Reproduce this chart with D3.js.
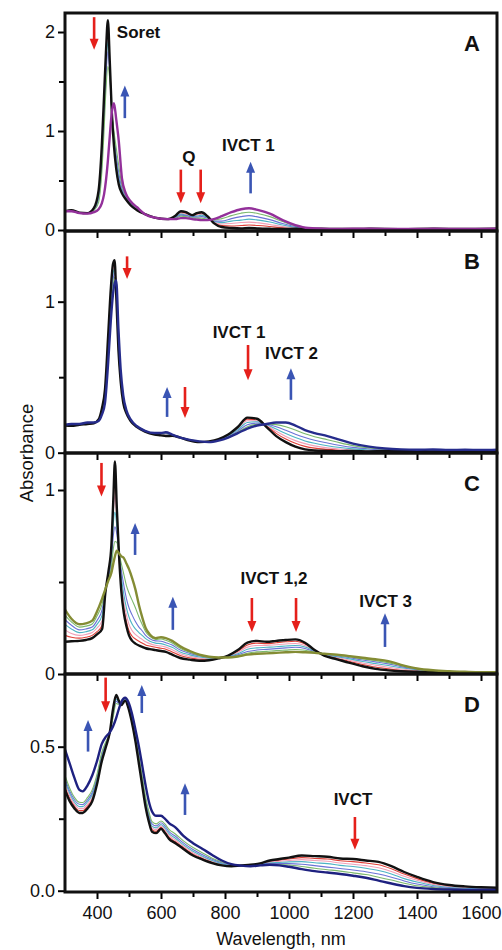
<!DOCTYPE html>
<html>
<head>
<meta charset="utf-8">
<script src="https://cdn.jsdelivr.net/npm/d3@7"></script>
<style>
  body { margin: 0; background: #fff; }
  svg { display: block; font-family: "Liberation Sans", Arial, sans-serif; }
</style>
</head>
<body>
<div id="chart"></div>
<script>
// ---- panel A: Soret / Q / IVCT 1 ----
const wlA = [300, 320, 345, 370, 390, 405, 415, 422, 428, 434, 440, 446, 453, 460, 468, 478, 490, 505, 525, 550, 580, 620, 645, 662, 678, 697, 712, 727, 745, 765, 790, 820, 850, 875, 905, 940, 980, 1020, 1060, 1100, 1150, 1250, 1350, 1450, 1550, 1650];
const blackA = [0.19, 0.2, 0.175, 0.17, 0.22, 0.4, 0.85, 1.35, 1.8, 2.12, 1.7, 1.21, 0.85, 0.62, 0.46, 0.37, 0.31, 0.25, 0.2, 0.16, 0.125, 0.11, 0.145, 0.19, 0.18, 0.15, 0.17, 0.18, 0.14, 0.07, 0.03, 0.02, 0.015, 0.02, 0.015, 0.012, 0.01, 0.012, 0.008, 0.013, 0.01, 0.012, 0.009, 0.013, 0.01, 0.012];
const purpleA = [0.19, 0.19, 0.17, 0.165, 0.18, 0.21, 0.27, 0.36, 0.5, 0.7, 0.95, 1.18, 1.28, 1.12, 0.9, 0.52, 0.37, 0.29, 0.23, 0.16, 0.125, 0.11, 0.11, 0.12, 0.12, 0.11, 0.105, 0.1, 0.1, 0.11, 0.14, 0.18, 0.21, 0.22, 0.2, 0.165, 0.1, 0.05, 0.02, 0.014, 0.011, 0.013, 0.01, 0.012, 0.011, 0.012];
const stepsA = [
  [0.19, 0.2, 0.175, 0.17, 0.215, 0.38, 0.8, 1.3, 1.75, 2.06, 1.68, 1.22, 0.87, 0.64, 0.48, 0.38, 0.31, 0.25, 0.2, 0.16, 0.125, 0.11, 0.14, 0.18, 0.17, 0.145, 0.16, 0.17, 0.135, 0.075, 0.045, 0.04, 0.045, 0.05, 0.045, 0.035, 0.022, 0.014, 0.01, 0.012, 0.01, 0.012, 0.01, 0.012, 0.01, 0.012],
  [0.19, 0.2, 0.174, 0.169, 0.21, 0.36, 0.76, 1.25, 1.68, 1.98, 1.65, 1.22, 0.89, 0.67, 0.5, 0.39, 0.32, 0.26, 0.205, 0.16, 0.125, 0.11, 0.135, 0.17, 0.16, 0.14, 0.15, 0.16, 0.13, 0.08, 0.06, 0.065, 0.075, 0.08, 0.072, 0.056, 0.035, 0.02, 0.012, 0.011, 0.011, 0.012, 0.01, 0.012, 0.011, 0.012],
  [0.19, 0.195, 0.173, 0.168, 0.205, 0.34, 0.72, 1.2, 1.62, 1.9, 1.62, 1.22, 0.92, 0.71, 0.53, 0.4, 0.33, 0.265, 0.21, 0.16, 0.125, 0.11, 0.13, 0.16, 0.15, 0.135, 0.14, 0.15, 0.125, 0.085, 0.075, 0.09, 0.1, 0.11, 0.1, 0.08, 0.05, 0.028, 0.014, 0.012, 0.011, 0.012, 0.01, 0.012, 0.011, 0.012],
  [0.19, 0.195, 0.172, 0.167, 0.2, 0.31, 0.66, 1.12, 1.54, 1.8, 1.58, 1.22, 0.95, 0.76, 0.58, 0.42, 0.34, 0.27, 0.215, 0.16, 0.125, 0.11, 0.125, 0.15, 0.145, 0.13, 0.13, 0.135, 0.118, 0.09, 0.09, 0.115, 0.135, 0.145, 0.13, 0.105, 0.065, 0.035, 0.016, 0.012, 0.011, 0.012, 0.01, 0.012, 0.011, 0.012],
  [0.19, 0.19, 0.171, 0.166, 0.195, 0.28, 0.58, 1.0, 1.42, 1.65, 1.52, 1.22, 1.0, 0.83, 0.65, 0.45, 0.35, 0.28, 0.22, 0.16, 0.125, 0.11, 0.118, 0.14, 0.135, 0.12, 0.12, 0.12, 0.11, 0.1, 0.115, 0.145, 0.17, 0.18, 0.165, 0.135, 0.085, 0.042, 0.018, 0.013, 0.011, 0.012, 0.01, 0.012, 0.011, 0.012]
];
const arrowsA = [[391, 2.15, 1.82], [487, 1.13, 1.46], [662, 0.61, 0.27], [724, 0.61, 0.27], [880, 0.37, 0.69]];
const labelsA = [["Soret", 462, 2.0, "start"], ["Q", 687, 0.737, "middle"], ["IVCT 1", 873, 0.86, "middle"]];

// ---- panel B ----
const wlB = [300, 320, 345, 370, 390, 405, 415, 425, 435, 443, 450, 455, 460, 467, 474, 482, 492, 505, 525, 550, 580, 600, 615, 635, 660, 690, 720, 750, 780, 810, 840, 870, 900, 930, 960, 990, 1020, 1050, 1080, 1120, 1160, 1200, 1250, 1300, 1350, 1400, 1450, 1500, 1550, 1600, 1650];
const blackB = [0.18, 0.178, 0.185, 0.19, 0.195, 0.22, 0.29, 0.42, 0.78, 1.08, 1.25, 1.275, 1.05, 0.68, 0.47, 0.33, 0.26, 0.21, 0.17, 0.14, 0.12, 0.115, 0.11, 0.112, 0.1, 0.08, 0.07, 0.075, 0.09, 0.12, 0.17, 0.232, 0.225, 0.17, 0.11, 0.07, 0.04, 0.022, 0.015, 0.012, 0.01, 0.012, 0.009, 0.011, 0.01, 0.012, 0.009, 0.011, 0.01, 0.012, 0.01];
const navyB = [0.185, 0.19, 0.19, 0.2, 0.2, 0.21, 0.25, 0.33, 0.6, 0.87, 1.05, 1.12, 1.14, 0.82, 0.55, 0.38, 0.28, 0.22, 0.175, 0.145, 0.13, 0.13, 0.135, 0.12, 0.1, 0.085, 0.075, 0.07, 0.08, 0.1, 0.13, 0.16, 0.18, 0.19, 0.2, 0.2, 0.18, 0.15, 0.13, 0.11, 0.085, 0.06, 0.04, 0.028, 0.022, 0.02, 0.021, 0.018, 0.02, 0.018, 0.02];
const stepsB = [
  [0.18, 0.179, 0.186, 0.19, 0.196, 0.218, 0.285, 0.41, 0.76, 1.06, 1.235, 1.262, 1.06, 0.7, 0.48, 0.34, 0.265, 0.212, 0.171, 0.141, 0.122, 0.118, 0.115, 0.114, 0.101, 0.081, 0.071, 0.074, 0.088, 0.118, 0.166, 0.222, 0.218, 0.178, 0.128, 0.09, 0.062, 0.042, 0.03, 0.022, 0.016, 0.014, 0.012, 0.011, 0.01, 0.012, 0.01, 0.011, 0.01, 0.011, 0.01],
  [0.181, 0.181, 0.187, 0.192, 0.197, 0.216, 0.28, 0.4, 0.74, 1.03, 1.21, 1.245, 1.07, 0.72, 0.49, 0.35, 0.268, 0.214, 0.172, 0.142, 0.124, 0.121, 0.12, 0.115, 0.1, 0.082, 0.072, 0.073, 0.086, 0.114, 0.16, 0.212, 0.212, 0.182, 0.142, 0.108, 0.08, 0.06, 0.045, 0.032, 0.024, 0.018, 0.014, 0.012, 0.011, 0.012, 0.011, 0.012, 0.011, 0.012, 0.011],
  [0.182, 0.183, 0.188, 0.194, 0.198, 0.214, 0.272, 0.38, 0.71, 1.0, 1.18, 1.22, 1.08, 0.74, 0.5, 0.355, 0.27, 0.216, 0.173, 0.143, 0.126, 0.124, 0.125, 0.116, 0.1, 0.083, 0.073, 0.072, 0.084, 0.11, 0.152, 0.2, 0.205, 0.186, 0.157, 0.127, 0.1, 0.078, 0.062, 0.046, 0.034, 0.025, 0.018, 0.014, 0.013, 0.014, 0.013, 0.014, 0.013, 0.014, 0.013],
  [0.183, 0.185, 0.189, 0.196, 0.199, 0.212, 0.265, 0.36, 0.67, 0.96, 1.14, 1.19, 1.1, 0.77, 0.52, 0.365, 0.275, 0.218, 0.174, 0.144, 0.128, 0.127, 0.13, 0.118, 0.1, 0.084, 0.074, 0.071, 0.082, 0.106, 0.143, 0.185, 0.196, 0.188, 0.172, 0.148, 0.122, 0.1, 0.082, 0.064, 0.048, 0.035, 0.025, 0.018, 0.016, 0.016, 0.016, 0.015, 0.016, 0.015, 0.016],
  [0.184, 0.188, 0.19, 0.198, 0.2, 0.211, 0.258, 0.345, 0.64, 0.92, 1.1, 1.16, 1.12, 0.8, 0.54, 0.372, 0.278, 0.22, 0.175, 0.145, 0.129, 0.129, 0.133, 0.119, 0.1, 0.085, 0.075, 0.07, 0.081, 0.103, 0.136, 0.172, 0.188, 0.19, 0.186, 0.172, 0.15, 0.126, 0.106, 0.086, 0.065, 0.047, 0.032, 0.023, 0.019, 0.018, 0.018, 0.017, 0.018, 0.017, 0.018]
];
const arrowsB = [[494, 1.30, 1.15], [619, 0.237, 0.435], [675, 0.435, 0.23], [872, 0.713, 0.48], [1006, 0.35, 0.56]];
const labelsB = [["IVCT 1", 844, 0.8, "middle"], ["IVCT 2", 1008, 0.66, "middle"]];

// ---- panel C ----
const wlC = [300, 320, 345, 365, 385, 400, 416, 426, 436, 445, 451, 456, 462, 469, 476, 484, 492, 500, 510, 520, 531, 541, 552, 565, 583, 600, 615, 635, 660, 690, 720, 750, 780, 810, 840, 870, 900, 930, 960, 990, 1020, 1050, 1080, 1110, 1150, 1190, 1230, 1270, 1310, 1350, 1400, 1450, 1500, 1550, 1600, 1650];
const blackC = [0.175, 0.178, 0.18, 0.185, 0.195, 0.215, 0.245, 0.44, 0.56, 0.7, 0.95, 1.155, 0.9, 0.64, 0.45, 0.33, 0.26, 0.21, 0.18, 0.165, 0.155, 0.148, 0.14, 0.135, 0.13, 0.125, 0.12, 0.105, 0.087, 0.078, 0.072, 0.075, 0.085, 0.1, 0.13, 0.17, 0.18, 0.175, 0.18, 0.185, 0.188, 0.17, 0.13, 0.1, 0.08, 0.06, 0.042, 0.028, 0.02, 0.015, 0.012, 0.01, 0.011, 0.009, 0.01, 0.009];
const oliveC = [0.35, 0.3, 0.27, 0.275, 0.29, 0.34, 0.41, 0.46, 0.51, 0.55, 0.6, 0.64, 0.67, 0.655, 0.64, 0.63, 0.6, 0.57, 0.52, 0.46, 0.375, 0.31, 0.25, 0.215, 0.195, 0.2, 0.195, 0.18, 0.15, 0.125, 0.105, 0.094, 0.09, 0.09, 0.095, 0.105, 0.11, 0.112, 0.115, 0.118, 0.12, 0.118, 0.115, 0.11, 0.105, 0.097, 0.088, 0.08, 0.07, 0.05, 0.03, 0.02, 0.015, 0.012, 0.01, 0.01];
const stepsC = [
  [0.21, 0.2, 0.195, 0.2, 0.21, 0.23, 0.265, 0.443, 0.555, 0.69, 0.93, 1.06, 0.87, 0.635, 0.47, 0.355, 0.285, 0.235, 0.205, 0.19, 0.178, 0.168, 0.158, 0.152, 0.145, 0.14, 0.135, 0.12, 0.1, 0.088, 0.08, 0.079, 0.087, 0.099, 0.124, 0.158, 0.168, 0.165, 0.17, 0.175, 0.178, 0.163, 0.13, 0.104, 0.086, 0.068, 0.052, 0.038, 0.028, 0.02, 0.015, 0.012, 0.011, 0.01, 0.01, 0.009],
  [0.24, 0.22, 0.21, 0.215, 0.225, 0.25, 0.29, 0.447, 0.545, 0.67, 0.88, 0.97, 0.84, 0.645, 0.5, 0.39, 0.32, 0.27, 0.235, 0.215, 0.2, 0.188, 0.175, 0.165, 0.156, 0.152, 0.146, 0.132, 0.11, 0.096, 0.086, 0.082, 0.087, 0.097, 0.117, 0.146, 0.155, 0.155, 0.159, 0.163, 0.166, 0.155, 0.128, 0.107, 0.09, 0.075, 0.06, 0.048, 0.037, 0.027, 0.019, 0.014, 0.012, 0.011, 0.01, 0.01],
  [0.27, 0.245, 0.225, 0.23, 0.24, 0.27, 0.32, 0.451, 0.535, 0.64, 0.82, 0.88, 0.8, 0.65, 0.53, 0.43, 0.36, 0.31, 0.27, 0.245, 0.225, 0.21, 0.192, 0.178, 0.168, 0.165, 0.158, 0.145, 0.12, 0.104, 0.092, 0.086, 0.088, 0.095, 0.11, 0.134, 0.142, 0.145, 0.148, 0.152, 0.155, 0.147, 0.125, 0.108, 0.094, 0.082, 0.068, 0.057, 0.046, 0.034, 0.023, 0.016, 0.013, 0.011, 0.01, 0.01],
  [0.295, 0.265, 0.24, 0.245, 0.255, 0.29, 0.35, 0.455, 0.525, 0.61, 0.75, 0.8, 0.76, 0.652, 0.565, 0.48, 0.41, 0.36, 0.32, 0.285, 0.255, 0.235, 0.21, 0.192, 0.18, 0.178, 0.17, 0.157, 0.13, 0.112, 0.098, 0.09, 0.089, 0.093, 0.104, 0.122, 0.13, 0.134, 0.138, 0.142, 0.145, 0.139, 0.122, 0.109, 0.098, 0.088, 0.076, 0.066, 0.055, 0.04, 0.026, 0.018, 0.014, 0.011, 0.01, 0.01],
  [0.32, 0.283, 0.255, 0.26, 0.272, 0.315, 0.38, 0.458, 0.518, 0.58, 0.68, 0.72, 0.715, 0.654, 0.6, 0.54, 0.48, 0.44, 0.4, 0.36, 0.31, 0.27, 0.23, 0.204, 0.188, 0.19, 0.183, 0.168, 0.14, 0.118, 0.101, 0.092, 0.089, 0.091, 0.099, 0.113, 0.12, 0.123, 0.127, 0.13, 0.133, 0.129, 0.119, 0.11, 0.101, 0.092, 0.082, 0.073, 0.062, 0.045, 0.028, 0.019, 0.014, 0.012, 0.01, 0.01]
];
const arrowsC = [[414, 1.147, 0.964], [519, 0.647, 0.82], [637, 0.24, 0.42], [884, 0.413, 0.228], [1022, 0.413, 0.228], [1300, 0.147, 0.33]];
const labelsC = [["IVCT 1,2", 953, 0.52, "middle"], ["IVCT 3", 1302, 0.40, "middle"]];

// ---- panel D ----
const wlD = [300, 315, 330, 345, 355, 370, 385, 400, 415, 428, 440, 450, 460, 468, 476, 488, 498, 508, 520, 531, 542, 552, 562, 572, 585, 600, 612, 625, 645, 670, 700, 730, 760, 790, 820, 850, 880, 910, 940, 970, 1000, 1040, 1080, 1120, 1160, 1200, 1240, 1280, 1320, 1360, 1400, 1450, 1500, 1550, 1600, 1650];
const blackD = [0.35, 0.31, 0.285, 0.27, 0.27, 0.285, 0.31, 0.37, 0.45, 0.5, 0.55, 0.63, 0.68, 0.66, 0.645, 0.66, 0.635, 0.59, 0.52, 0.44, 0.36, 0.29, 0.24, 0.205, 0.2, 0.215, 0.2, 0.18, 0.165, 0.145, 0.122, 0.108, 0.096, 0.088, 0.085, 0.088, 0.09, 0.095, 0.105, 0.11, 0.115, 0.122, 0.12, 0.118, 0.112, 0.11, 0.105, 0.1, 0.085, 0.065, 0.048, 0.03, 0.02, 0.015, 0.012, 0.01];
const navyD = [0.49, 0.44, 0.39, 0.35, 0.345, 0.365, 0.4, 0.45, 0.51, 0.535, 0.55, 0.57, 0.6, 0.63, 0.655, 0.67, 0.655, 0.62, 0.56, 0.5, 0.43, 0.365, 0.31, 0.275, 0.26, 0.26, 0.25, 0.235, 0.22, 0.19, 0.165, 0.145, 0.124, 0.105, 0.092, 0.087, 0.085, 0.088, 0.09, 0.088, 0.083, 0.075, 0.068, 0.063, 0.058, 0.052, 0.045, 0.035, 0.025, 0.016, 0.01, 0.006, 0.004, 0.003, 0.003, 0.003];
const stepsD = [
  [0.36, 0.32, 0.293, 0.278, 0.278, 0.293, 0.318, 0.376, 0.455, 0.503, 0.548, 0.625, 0.675, 0.658, 0.645, 0.66, 0.637, 0.592, 0.523, 0.444, 0.365, 0.296, 0.246, 0.212, 0.206, 0.22, 0.206, 0.186, 0.17, 0.15, 0.127, 0.112, 0.099, 0.09, 0.086, 0.087, 0.089, 0.094, 0.102, 0.106, 0.11, 0.115, 0.112, 0.11, 0.104, 0.101, 0.096, 0.09, 0.076, 0.058, 0.042, 0.026, 0.017, 0.012, 0.01, 0.008],
  [0.37, 0.328, 0.3, 0.285, 0.285, 0.3, 0.325, 0.382, 0.46, 0.506, 0.547, 0.62, 0.67, 0.656, 0.646, 0.662, 0.64, 0.595, 0.526, 0.448, 0.37, 0.302, 0.252, 0.218, 0.212, 0.225, 0.212, 0.192, 0.176, 0.155, 0.132, 0.116, 0.102, 0.092, 0.087, 0.087, 0.088, 0.093, 0.099, 0.102, 0.105, 0.108, 0.105, 0.102, 0.096, 0.092, 0.087, 0.08, 0.067, 0.05, 0.036, 0.022, 0.014, 0.01, 0.008, 0.007],
  [0.38, 0.337, 0.307, 0.292, 0.292, 0.308, 0.333, 0.389, 0.466, 0.51, 0.546, 0.614, 0.665, 0.653, 0.647, 0.664, 0.642, 0.598, 0.53, 0.453, 0.376, 0.308, 0.258, 0.224, 0.218, 0.23, 0.218, 0.198, 0.182, 0.16, 0.137, 0.12, 0.105, 0.094, 0.088, 0.087, 0.087, 0.091, 0.096, 0.098, 0.1, 0.101, 0.097, 0.094, 0.088, 0.084, 0.078, 0.07, 0.058, 0.042, 0.03, 0.018, 0.011, 0.008, 0.006, 0.005],
  [0.39, 0.345, 0.315, 0.3, 0.299, 0.315, 0.341, 0.396, 0.472, 0.514, 0.546, 0.608, 0.658, 0.65, 0.648, 0.666, 0.645, 0.602, 0.535, 0.46, 0.383, 0.316, 0.266, 0.232, 0.225, 0.236, 0.225, 0.205, 0.189, 0.166, 0.143, 0.125, 0.109, 0.097, 0.089, 0.087, 0.086, 0.09, 0.094, 0.094, 0.094, 0.092, 0.087, 0.082, 0.077, 0.072, 0.066, 0.058, 0.047, 0.034, 0.023, 0.014, 0.009, 0.006, 0.005, 0.004],
  [0.4, 0.355, 0.323, 0.307, 0.306, 0.323, 0.35, 0.404, 0.48, 0.518, 0.547, 0.6, 0.65, 0.647, 0.649, 0.668, 0.648, 0.607, 0.541, 0.468, 0.392, 0.325, 0.275, 0.24, 0.232, 0.242, 0.232, 0.213, 0.197, 0.173, 0.15, 0.131, 0.113, 0.1, 0.09, 0.087, 0.085, 0.089, 0.092, 0.091, 0.089, 0.084, 0.078, 0.073, 0.068, 0.062, 0.056, 0.047, 0.037, 0.026, 0.017, 0.011, 0.007, 0.005, 0.004, 0.004]
];
const arrowsD = [[427, 0.74, 0.62], [540, 0.617, 0.714], [372, 0.483, 0.593], [675, 0.263, 0.373], [1206, 0.256, 0.142]];
const labelsD = [["IVCT", 1200, 0.32, "middle"]];

const xMajor = [400, 600, 800, 1000, 1200, 1400, 1600];
const xMinor = [500, 700, 900, 1100, 1300, 1500];
const stepColors = ["#e04038", "#f0a0b8", "#4cb4c4", "#6b72d6", "#7bb86c"];

const panels = [
  { letter: "A", wl: wlA, start: blackA, end: purpleA, steps: stepsA, endColor: "#93309a",
    top: 13, bottom: 231, domain: [-0.0101, 2.192], major: [0, 1, 2], minor: [0.5, 1.5], fmt: d3.format("d"),
    arrows: arrowsA, labels: labelsA },
  { letter: "B", wl: wlB, start: blackB, end: navyB, steps: stepsB, endColor: "#262c8c",
    top: 231, bottom: 453, domain: [-0.002, 1.468], major: [0, 1], minor: [0.5], fmt: d3.format("d"),
    arrows: arrowsB, labels: labelsB },
  { letter: "C", wl: wlC, start: blackC, end: oliveC, steps: stepsC, endColor: "#848c34",
    top: 453, bottom: 674, domain: [0, 1.201], major: [0, 1], minor: [0.5], fmt: d3.format("d"),
    arrows: arrowsC, labels: labelsC },
  { letter: "D", wl: wlD, start: blackD, end: navyD, steps: stepsD, endColor: "#1e2180",
    top: 674, bottom: 892, domain: [-0.0045, 0.7524], major: [0, 0.5], minor: [0.25], fmt: d3.format(".1f"),
    arrows: arrowsD, labels: labelsD }
];

const width = 502, height = 950;
const left = 65, right = 497;

const svg = d3.select("#chart").append("svg")
  .attr("width", width)
  .attr("height", height);

const x = d3.scaleLinear().domain([300, 1650]).range([left, right]);

panels.forEach((p, i) => {
  const y = d3.scaleLinear().domain(p.domain).range([p.bottom, p.top]);
  const g = svg.append("g");

  g.append("clipPath").attr("id", "clip" + i)
    .append("rect")
    .attr("x", left).attr("y", p.top)
    .attr("width", right - left).attr("height", p.bottom - p.top);

  const line = d3.line()
    .x(d => x(d[0]))
    .y(d => y(d[1]))
    .curve(d3.curveMonotoneX);

  const plot = g.append("g").attr("clip-path", `url(#clip${i})`);
  p.steps.forEach((s, k) => {
    plot.append("path")
      .datum(p.wl.map((w, j) => [w, s[j]]))
      .attr("d", line)
      .attr("fill", "none")
      .attr("stroke", stepColors[k])
      .attr("stroke-width", 1.1);
  });
  plot.append("path")
    .datum(p.wl.map((w, j) => [w, p.start[j]]))
    .attr("d", line)
    .attr("fill", "none")
    .attr("stroke", "#111")
    .attr("stroke-width", 2.4);
  plot.append("path")
    .datum(p.wl.map((w, j) => [w, p.end[j]]))
    .attr("d", line)
    .attr("fill", "none")
    .attr("stroke", p.endColor)
    .attr("stroke-width", 2.4);

  // y axis, major + minor
  g.append("g")
    .attr("transform", `translate(${left},0)`)
    .call(d3.axisLeft(y).tickValues(p.major).tickSize(7).tickPadding(3).tickFormat(p.fmt))
    .call(a => a.select(".domain").remove())
    .call(a => a.selectAll("line").attr("stroke-width", 2))
    .call(a => a.selectAll("text").style("font-size", "18px").attr("fill", "#111"));
  g.append("g")
    .attr("transform", `translate(${left},0)`)
    .call(d3.axisLeft(y).tickValues(p.minor).tickSize(6).tickFormat(""))
    .call(a => a.select(".domain").remove())
    .call(a => a.selectAll("line").attr("stroke-width", 2));

  // x axis at panel bottom
  g.append("g")
    .attr("transform", `translate(0,${p.bottom})`)
    .call(d3.axisBottom(x).tickValues(xMajor).tickSize(7).tickPadding(7)
      .tickFormat(i === panels.length - 1 ? d3.format("d") : ""))
    .call(a => a.select(".domain").remove())
    .call(a => a.selectAll("line").attr("stroke-width", 2))
    .call(a => a.selectAll("text").style("font-size", "18px").attr("fill", "#111"));
  g.append("g")
    .attr("transform", `translate(0,${p.bottom})`)
    .call(d3.axisBottom(x).tickValues(xMinor).tickSize(5).tickFormat(""))
    .call(a => a.select(".domain").remove())
    .call(a => a.selectAll("line").attr("stroke-width", 2));

  // frame
  g.append("rect")
    .attr("x", left).attr("y", p.top)
    .attr("width", right - left).attr("height", p.bottom - p.top)
    .attr("fill", "none")
    .attr("stroke", "#111")
    .attr("stroke-width", 3);

  // arrows
  p.arrows.forEach(([w, from, to]) => {
    const down = to < from;
    const col = down ? "#e5201b" : "#3a55b4";
    const ax = x(w), y0 = y(from), y1 = y(to);
    const dir = down ? 1 : -1;
    const head = 11;
    g.append("line")
      .attr("x1", ax).attr("x2", ax)
      .attr("y1", y0).attr("y2", y1 - dir * head + dir)
      .attr("stroke", col).attr("stroke-width", 2.6);
    g.append("path")
      .attr("d", `M${ax - 4.5},${y1 - dir * head}L${ax + 4.5},${y1 - dir * head}L${ax},${y1}Z`)
      .attr("fill", col);
  });

  // annotations
  p.labels.forEach(([t, w, v, anchor]) => {
    g.append("text")
      .attr("x", x(w)).attr("y", y(v))
      .attr("dy", "0.36em")
      .attr("text-anchor", anchor)
      .style("font-size", "17px")
      .style("font-weight", "bold")
      .attr("fill", "#111")
      .text(t);
  });

  g.append("text")
    .attr("x", 472).attr("y", p.top + 38)
    .attr("text-anchor", "middle")
    .style("font-size", "22px")
    .style("font-weight", "bold")
    .attr("fill", "#111")
    .text(p.letter);
});

svg.append("text")
  .attr("transform", "translate(33,453) rotate(-90)")
  .attr("text-anchor", "middle")
  .style("font-size", "18.5px")
  .attr("fill", "#111")
  .text("Absorbance");

svg.append("text")
  .attr("x", 281).attr("y", 945)
  .attr("text-anchor", "middle")
  .style("font-size", "18px")
  .attr("fill", "#111")
  .text("Wavelength, nm");
</script>
</body>
</html>
